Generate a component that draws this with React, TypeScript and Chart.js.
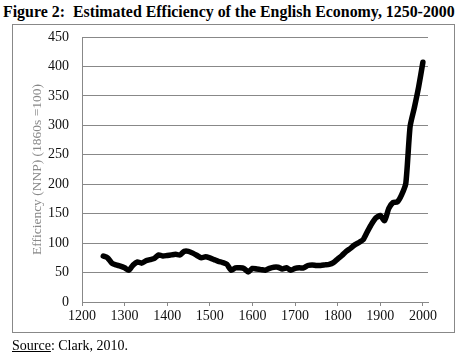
import React, { useEffect, useRef } from "react";
import { Chart, registerables } from "chart.js";

Chart.register(...registerables);

const years = [
  1250, 1260, 1270, 1280, 1290, 1300, 1310, 1320, 1330, 1340,
  1350, 1360, 1370, 1380, 1390, 1400, 1410, 1420, 1430, 1440,
  1450, 1460, 1470, 1480, 1490, 1500, 1510, 1520, 1530, 1540,
  1550, 1560, 1570, 1580, 1590, 1600, 1610, 1620, 1630, 1640,
  1650, 1660, 1670, 1680, 1690, 1700, 1710, 1720, 1730, 1740,
  1750, 1760, 1770, 1780, 1790, 1800, 1810, 1820, 1830, 1840,
  1850, 1860, 1870, 1880, 1890, 1900, 1910, 1920, 1930, 1940,
  1950, 1960, 1970, 1980, 1990, 2000,
];

const efficiency = [
  78, 75, 66, 63, 61, 58, 54, 63, 68, 66,
  70, 72, 74, 80, 78, 79, 80, 81, 80, 86,
  86, 83, 79, 75, 77, 75, 72, 69, 67, 64,
  54, 58, 58, 57, 51, 57, 56, 55, 54, 57,
  59, 59, 56, 58, 54, 57, 58, 58, 62, 63,
  62, 62, 63, 64, 67, 73, 79, 86, 91, 97,
  101, 106, 120, 133, 143, 147, 138, 159, 169, 170,
  182, 202, 298, 330, 365, 407,
];

const xTicks = [1200, 1300, 1400, 1500, 1600, 1700, 1800, 1900, 2000];
const yTicks = [0, 50, 100, 150, 200, 250, 300, 350, 400, 450];

const titleText = "Figure 2:  Estimated Efficiency of the English Economy, 1250-2000";
const yAxisTitle = "Efficiency (NNP) (1860s =100)";
const sourceLabel = "Source";
const sourceRest = ": Clark, 2010.";

const SERIF = "'Liberation Serif', 'DejaVu Serif', serif";

export default function App() {
  const ref = useRef<HTMLCanvasElement>(null);

  useEffect(() => {
    document.body.style.margin = "0";
    const chart = new Chart(ref.current as HTMLCanvasElement, {
      type: "line",
      data: {
        datasets: [
          {
            data: years.map((y, i) => ({ x: y, y: efficiency[i] })),
            borderColor: "#000",
            borderWidth: 5.5,
            pointRadius: 0,
            tension: 0.2,
            borderCapStyle: "round",
            borderJoinStyle: "round",
            fill: false,
          },
        ],
      },
      options: {
        responsive: false,
        animation: false,
        layout: { padding: { left: 0, right: 41, top: 37, bottom: 0 } },
        plugins: { legend: { display: false }, tooltip: { enabled: false } },
        scales: {
          x: {
            type: "linear",
            min: 1200,
            max: 2012,
            afterBuildTicks: (s: any) => {
              s.ticks = xTicks.map((v) => ({ value: v }));
            },
            afterFit: (s: any) => {
              s.height = 59;
            },
            grid: { drawOnChartArea: false, drawTicks: true, tickLength: 4, color: "#888" },
            border: { color: "#888" },
            ticks: {
              font: { family: SERIF, size: 14 },
              color: "#111",
              padding: 2,
              maxRotation: 0,
              autoSkip: false,
              callback: (v: any) => String(v),
            },
          },
          y: {
            min: 0,
            max: 450,
            afterBuildTicks: (s: any) => {
              s.ticks = yTicks.map((v) => ({ value: v }));
            },
            afterFit: (s: any) => {
              s.width = 82;
            },
            grid: { color: "#888", drawTicks: false },
            border: { color: "#888" },
            ticks: {
              font: { family: SERIF, size: 14 },
              color: "#111",
              padding: 13,
              callback: (v: any) => String(v),
            },
            title: {
              display: true,
              text: yAxisTitle,
              font: { family: SERIF, size: 13.5 },
              color: "#888",
              padding: { top: 29, bottom: 0 },
            },
          },
        },
      },
    } as any);
    return () => chart.destroy();
  }, []);

  return (
    <div style={{ position: "absolute", left: 0, top: 0, width: 469, height: 361, background: "#fff", fontFamily: SERIF }}>
      <div style={{ position: "absolute", left: 3, top: 3, fontSize: 15.9, fontWeight: "bold", whiteSpace: "pre", color: "#000" }}>
        {titleText}
      </div>
      <div style={{ position: "absolute", left: 12, top: 24, width: 441, height: 307, border: "1px solid #888" }} />
      <canvas ref={ref} width={469} height={361} style={{ position: "absolute", left: 0, top: 0, width: 469, height: 361 }} />
      <div style={{ position: "absolute", left: 12, top: 338, fontSize: 14, color: "#000", whiteSpace: "pre" }}>
        <span style={{ textDecoration: "underline" }}>{sourceLabel}</span>
        {sourceRest}
      </div>
    </div>
  );
}
